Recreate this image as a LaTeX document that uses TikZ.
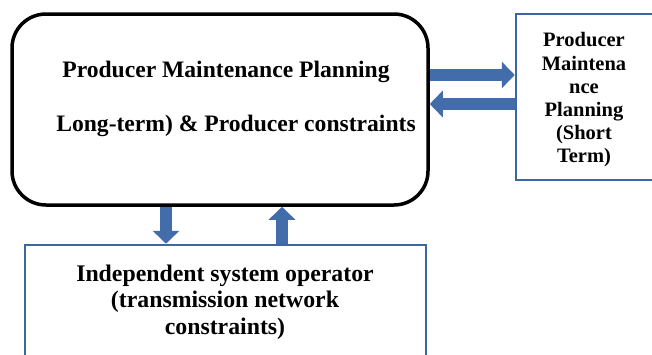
\documentclass[tikz,border=0pt]{standalone}
\usepackage{fontspec}
\setmainfont{Liberation Serif}
\usetikzlibrary{arrows.meta}
\definecolor{boxblue}{RGB}{62,102,160}
\definecolor{arrowblue}{RGB}{66,108,170}
\tikzset{
  mainbox/.style={draw=black, line width=3.5pt, rounded corners=34pt, inner sep=0pt},
  bluebox/.style={draw=boxblue, line width=2.5pt, inner sep=0pt},
  label/.style={align=center, inner sep=0pt},
  blockarrow/.style={draw=arrowblue, line width=11.5pt,
    -{Triangle[width=26pt,length=13pt]}}
}
\begin{document}
\begin{tikzpicture}[x=1pt,y=-1pt]
  \useasboundingbox (0,0) rectangle (652,354);
  \clip (0,0) rectangle (652,354);
  % boxes
  \node[mainbox, minimum width=416pt, minimum height=191pt] (main) at (220,109.5) {};
  \node[bluebox, minimum width=150pt, minimum height=166pt] (short) at (591,97) {};
  \node[bluebox, minimum width=401pt, minimum height=120pt] (iso) at (225.5,305) {};
  % texts
  \node[label, font=\bfseries\fontsize{23.6}{27}\selectfont] (t1) at (226,72) {Producer Maintenance Planning};
  \node[label, font=\bfseries\fontsize{23.6}{27}\selectfont] (t2) at (236,126) {Long-term) \& Producer constraints};
  \node[label, font=\bfseries\fontsize{20.5}{23.2}\selectfont] (t3) at (584,100)
    {Producer\\Maintena\\nce\\Planning\\(Short\\Term)};
  \node[label, font=\bfseries\fontsize{23.8}{26.5}\selectfont] (t4) at (225,302)
    {Independent system operator\\(transmission network\\constraints)};
  % connectors
  \draw[blockarrow] (main.east |- 0,75) -- (short.west |- 0,75);
  \draw[blockarrow] (short.west |- 0,104) -- (main.east |- 0,104);
  \draw[blockarrow] (main.south -| 166,0) -- (iso.north -| 166,0);
  \draw[blockarrow] (iso.north -| 282,0) -- (main.south -| 282,0);
\end{tikzpicture}
\end{document}
